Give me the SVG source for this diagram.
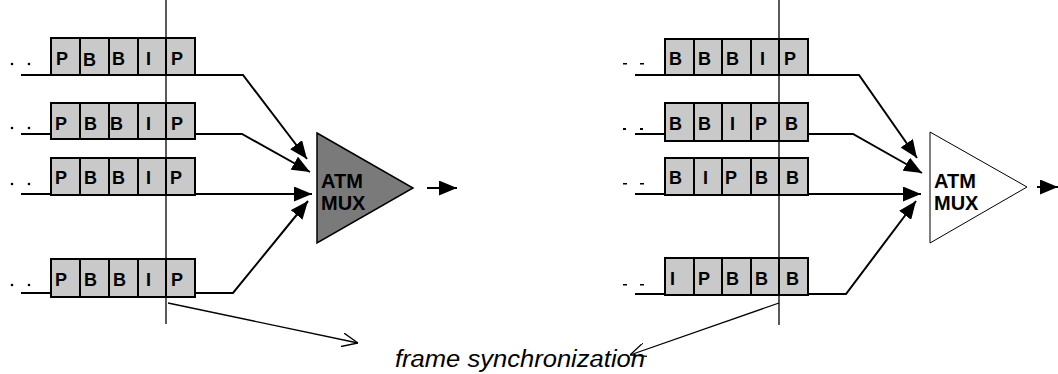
<svg xmlns="http://www.w3.org/2000/svg" width="1058" height="374" viewBox="0 0 1058 374">
<defs>
<style>
.cell{fill:#c9c9c9;stroke:#000;stroke-width:2}
.lbl{font-family:"Liberation Sans",Arial,sans-serif;font-weight:bold;font-size:18px;fill:#000}
.ln{fill:none;stroke:#000;stroke-width:2}
.thin{fill:none;stroke:#000;stroke-width:1.3}
.dot{fill:#000}
.mux{font-family:"Liberation Sans",Arial,sans-serif;font-weight:bold;font-size:20px;fill:#000}
</style>
<marker id="ah" viewBox="0 0 18 15" refX="18" refY="7.5" markerWidth="18" markerHeight="15" markerUnits="userSpaceOnUse" orient="auto">
<path d="M0,0 L18,7.5 L0,15 Z" fill="#000"/>
</marker>
<marker id="oh" viewBox="0 0 16 14" refX="16" refY="7" markerWidth="16" markerHeight="14" markerUnits="userSpaceOnUse" orient="auto">
<path d="M0,0 L16,7 L0,14" fill="none" stroke="#000" stroke-width="1.3"/>
</marker>
</defs>
<rect width="1058" height="374" fill="#fff"/>

<g id="connectors">
<polyline class="ln" points="21,75 243,75 307,159" marker-end="url(#ah)"/>
<polyline class="ln" points="21,134 242,134 310,172" marker-end="url(#ah)"/>
<polyline class="ln" points="21,194 312,194" marker-end="url(#ah)"/>
<polyline class="ln" points="21,293 233,293 308,201" marker-end="url(#ah)"/>
<line class="ln" x1="427" y1="188" x2="457" y2="188" marker-end="url(#ah)"/>
<polyline class="ln" points="635,75 859,75 917,158" marker-end="url(#ah)"/>
<polyline class="ln" points="635,134 853,134 922,173" marker-end="url(#ah)"/>
<polyline class="ln" points="635,194 921,194" marker-end="url(#ah)"/>
<polyline class="ln" points="635,294 846,294 916,201" marker-end="url(#ah)"/>
<line class="ln" x1="1037" y1="187" x2="1058" y2="187" marker-end="url(#ah)"/>
<line class="thin" x1="166" y1="0" x2="166" y2="324"/>
<line class="thin" x1="779" y1="0" x2="779" y2="325"/>
<line class="thin" x1="168" y1="303" x2="358" y2="343" marker-end="url(#oh)"/>
<line class="thin" x1="779" y1="303" x2="630" y2="355" marker-end="url(#oh)"/>
</g>

<g id="left-dots">
<circle class="dot" cx="12" cy="64" r="1.3"/><circle class="dot" cx="29" cy="64" r="1.3"/>
<circle class="dot" cx="12" cy="128" r="1.3"/><circle class="dot" cx="29" cy="128" r="1.3"/>
<circle class="dot" cx="12" cy="184" r="1.3"/><circle class="dot" cx="29" cy="184" r="1.3"/>
<circle class="dot" cx="12" cy="285" r="1.3"/><circle class="dot" cx="29" cy="285" r="1.3"/>
</g>
<g id="right-dots">
<rect class="dot" x="623" y="63" width="4" height="1.5"/><rect class="dot" x="640" y="63" width="4" height="1.5"/>
<rect class="dot" x="623" y="128" width="3" height="2"/><rect class="dot" x="640" y="128" width="3" height="2"/>
<rect class="dot" x="623" y="183" width="4" height="1.5"/><rect class="dot" x="640" y="183" width="4" height="1.5"/>
<rect class="dot" x="623" y="284" width="4" height="1.5"/><rect class="dot" x="640" y="284" width="4" height="1.5"/>
</g>

<g id="left-stream-1">
<rect class="cell" x="51" y="38" width="29" height="37"/><rect class="cell" x="80" y="38" width="29" height="37"/><rect class="cell" x="109" y="38" width="29" height="37"/><rect class="cell" x="138" y="38" width="28" height="37"/><rect class="cell" x="166" y="38" width="29" height="37"/>
<text class="lbl" x="56" y="65">P</text><text class="lbl" x="83" y="66">B</text><text class="lbl" x="112" y="65">B</text><text class="lbl" x="146" y="65">I</text><text class="lbl" x="171" y="65">P</text>
</g>
<g id="left-stream-2">
<rect class="cell" x="51" y="103" width="29" height="36"/><rect class="cell" x="80" y="103" width="29" height="36"/><rect class="cell" x="109" y="103" width="29" height="36"/><rect class="cell" x="138" y="103" width="28" height="36"/><rect class="cell" x="166" y="103" width="29" height="36"/>
<text class="lbl" x="55" y="130">P</text><text class="lbl" x="84" y="130">B</text><text class="lbl" x="110" y="130">B</text><text class="lbl" x="146" y="130">I</text><text class="lbl" x="171" y="130">P</text>
</g>
<g id="left-stream-3">
<rect class="cell" x="51" y="158" width="29" height="37"/><rect class="cell" x="80" y="158" width="29" height="37"/><rect class="cell" x="109" y="158" width="29" height="37"/><rect class="cell" x="138" y="158" width="28" height="37"/><rect class="cell" x="166" y="158" width="29" height="37"/>
<text class="lbl" x="55" y="184">P</text><text class="lbl" x="84" y="184">B</text><text class="lbl" x="112" y="184">B</text><text class="lbl" x="146" y="184">I</text><text class="lbl" x="170" y="184">P</text>
</g>
<g id="left-stream-4">
<rect class="cell" x="51" y="259" width="29" height="38"/><rect class="cell" x="80" y="259" width="29" height="38"/><rect class="cell" x="109" y="259" width="29" height="38"/><rect class="cell" x="138" y="259" width="28" height="38"/><rect class="cell" x="166" y="259" width="29" height="38"/>
<text class="lbl" x="55" y="286">P</text><text class="lbl" x="84" y="286">B</text><text class="lbl" x="113" y="286">B</text><text class="lbl" x="146" y="286">I</text><text class="lbl" x="171" y="286">P</text>
</g>

<g id="left-mux">
<polygon points="317,133 413,188 317,243" fill="#7a7a7a" stroke="#000" stroke-width="1.5"/>
<text class="mux" x="321" y="188">ATM</text>
<text class="mux" x="321" y="210">MUX</text>
</g>

<g id="right-stream-1">
<rect class="cell" x="665" y="39" width="29" height="36"/><rect class="cell" x="694" y="39" width="28" height="36"/><rect class="cell" x="722" y="39" width="29" height="36"/><rect class="cell" x="751" y="39" width="28" height="36"/><rect class="cell" x="779" y="39" width="29" height="36"/>
<text class="lbl" x="669" y="65">B</text><text class="lbl" x="698" y="65">B</text><text class="lbl" x="726" y="65">B</text><text class="lbl" x="760" y="65">I</text><text class="lbl" x="784" y="65">P</text>
</g>
<g id="right-stream-2">
<rect class="cell" x="665" y="103" width="29" height="38"/><rect class="cell" x="694" y="103" width="28" height="38"/><rect class="cell" x="722" y="103" width="29" height="38"/><rect class="cell" x="751" y="103" width="28" height="38"/><rect class="cell" x="779" y="103" width="29" height="38"/>
<text class="lbl" x="669" y="130">B</text><text class="lbl" x="698" y="130">B</text><text class="lbl" x="730" y="130">I</text><text class="lbl" x="755" y="130">P</text><text class="lbl" x="785" y="130">B</text>
</g>
<g id="right-stream-3">
<rect class="cell" x="665" y="158" width="29" height="37"/><rect class="cell" x="694" y="158" width="28" height="37"/><rect class="cell" x="722" y="158" width="29" height="37"/><rect class="cell" x="751" y="158" width="28" height="37"/><rect class="cell" x="779" y="158" width="29" height="37"/>
<text class="lbl" x="669" y="184">B</text><text class="lbl" x="703" y="184">I</text><text class="lbl" x="725" y="184">P</text><text class="lbl" x="755" y="184">B</text><text class="lbl" x="786" y="184">B</text>
</g>
<g id="right-stream-4">
<rect class="cell" x="665" y="258" width="29" height="37"/><rect class="cell" x="694" y="258" width="28" height="37"/><rect class="cell" x="722" y="258" width="29" height="37"/><rect class="cell" x="751" y="258" width="28" height="37"/><rect class="cell" x="779" y="258" width="29" height="37"/>
<text class="lbl" x="670" y="285">I</text><text class="lbl" x="698" y="285">P</text><text class="lbl" x="726" y="285">B</text><text class="lbl" x="755" y="285">B</text><text class="lbl" x="786" y="285">B</text>
</g>

<g id="right-mux">
<polygon points="930,132 1027,187 930,243" fill="#fff" stroke="#000" stroke-width="1"/>
<text class="mux" x="934" y="188">ATM</text>
<text class="mux" x="934" y="210">MUX</text>
</g>

<g id="label">
<text x="395" y="367" font-family="'Liberation Sans',Arial,sans-serif" font-style="italic" font-size="23" textLength="250" lengthAdjust="spacingAndGlyphs" fill="#000">frame synchronization</text>
</g>
</svg>
